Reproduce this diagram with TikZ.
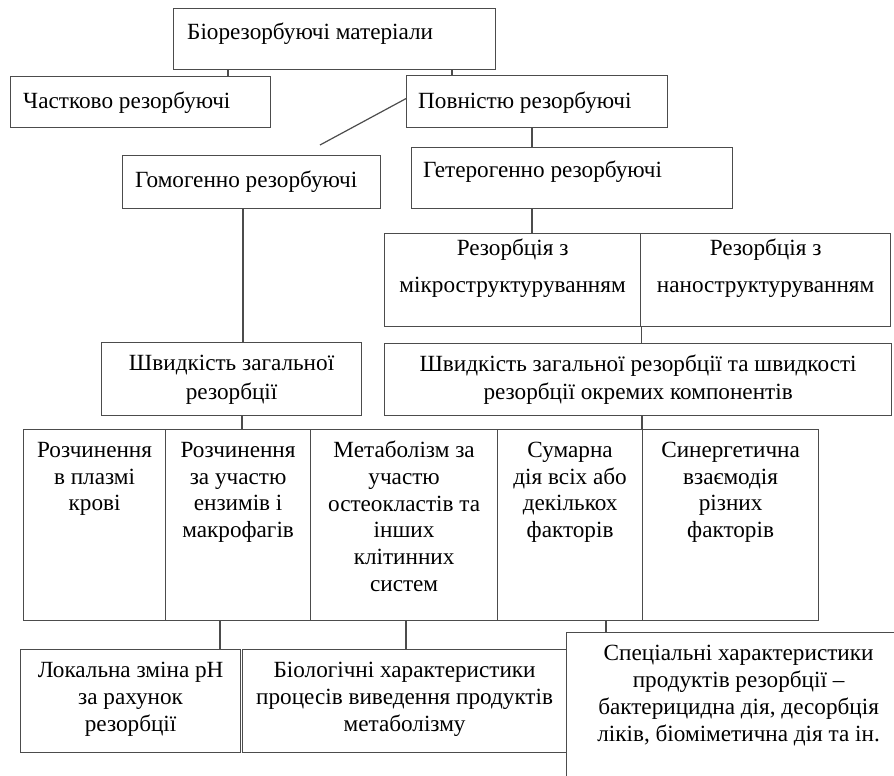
\documentclass[tikz,border=0pt]{standalone}
\usepackage{fontspec}
\setmainfont{Liberation Serif}
\usetikzlibrary{positioning,calc}

\tikzset{
  cell/.style={draw=black!70, line width=1.2pt, inner sep=0pt, anchor=north west},
  txt/.style={inner sep=0pt, align=center, anchor=north},
  ltxt/.style={inner sep=0pt, align=left, anchor=north west},
  link/.style={draw=black!70, line width=1.2pt}
}

\begin{document}
\begin{tikzpicture}[x=1pt, y=-1pt, every node/.style={font=\fontsize{23.2}{26.7}\selectfont}]
\useasboundingbox (0,0) rectangle (894,776);
\clip (0,0) rectangle (894,776);

% top levels
\node[cell, minimum width=322pt, minimum height=61pt, label={[ltxt, xshift=14pt, yshift=-15pt]north west:Біорезорбуючі матеріали}] (bio) at (173,8) {};
\node[cell, minimum width=260pt, minimum height=51pt, label={[ltxt, xshift=13pt, yshift=-16pt]north west:Частково резорбуючі}] (chast) at (10,76) {};
\node[cell, minimum width=261pt, minimum height=52pt, label={[ltxt, xshift=12pt, yshift=-17pt]north west:Повністю резорбуючі}] (povn) at (406,75) {};
\node[cell, minimum width=258pt, minimum height=53pt, label={[ltxt, xshift=13pt, yshift=-16pt]north west:Гомогенно резорбуючі}] (homo) at (122,155) {};
\node[cell, minimum width=321pt, minimum height=61pt, label={[ltxt, xshift=12pt, yshift=-14pt]north west:Гетерогенно резорбуючі}] (hetero) at (411,147) {};

% structuring
\node[cell, minimum width=256pt, minimum height=93pt, label={[txt, yshift=-6pt, font=\fontsize{23.2}{37}\selectfont]north:{Резорбція з\\мікроструктуруванням}}] (micro) at (384,233) {};
\node[cell, minimum width=250pt, minimum height=93pt, label={[txt, yshift=-6pt, font=\fontsize{23.2}{37}\selectfont]north:{Резорбція з\\наноструктуруванням}}] (nano) at (640,233) {};

% rates
\node[cell, minimum width=260pt, minimum height=73pt, label={[txt, yshift=-13pt, font=\fontsize{23.2}{29}\selectfont]north:{Швидкість загальної\\резорбції}}] (rate) at (101,342) {};
\node[cell, minimum width=507pt, minimum height=72pt, label={[txt, yshift=-12pt, font=\fontsize{23.2}{28}\selectfont]north:{Швидкість загальної резорбції та швидкості\\резорбції окремих компонентів}}] (ratecomp) at (384,343) {};

% mechanisms
\node[cell, minimum width=142pt, minimum height=191pt, label={[txt, yshift=-13pt]north:{Розчинення\\в плазмі\\крові}}] (plasma) at (23,429) {};
\node[cell, minimum width=145pt, minimum height=191pt, label={[txt, yshift=-13pt]north:{Розчинення\\за участю\\ензимів і\\макрофагів}}] (enzym) at (165,429) {};
\node[cell, minimum width=187pt, minimum height=191pt, label={[txt, yshift=-12pt]north:{Метаболізм за\\участю\\остеокластів та\\інших\\клітинних\\систем}}] (meta) at (310,429) {};
\node[cell, minimum width=145pt, minimum height=191pt, label={[txt, yshift=-13pt]north:{Сумарна\\дія всіх або\\декількох\\факторів}}] (summ) at (497,429) {};
\node[cell, minimum width=176pt, minimum height=191pt, label={[txt, yshift=-13pt]north:{Синергетична\\взаємодія\\різних\\факторів}}] (syn) at (642,429) {};

% characteristics
\node[cell, minimum width=220pt, minimum height=103pt, label={[txt, yshift=-13pt, font=\fontsize{23.2}{27}\selectfont]north:{Локальна зміна pH\\за рахунок\\резорбції}}] (ph) at (20,649) {};
\node[cell, minimum width=324pt, minimum height=103pt, label={[txt, yshift=-13pt, font=\fontsize{23.2}{27}\selectfont]north:{Біологічні характеристики\\процесів виведення продуктів\\метаболізму}}] (biol) at (242,649) {};
\node[cell, minimum width=344pt, minimum height=170pt, label={[txt, yshift=-13pt, font=\fontsize{23.2}{27}\selectfont]north:{Спеціальні характеристики\\продуктів резорбції –\\бактерицидна дія, десорбція\\ліків, біоміметична дія та ін.}}] (spec) at (566,632) {};

% connector points
\coordinate (c1) at ([xshift=55pt]bio.south west);
\coordinate (c2) at ([xshift=279pt]bio.south west);
\coordinate (c3) at ([xshift=126pt]povn.south west);
\coordinate (c4) at ([xshift=121pt]homo.south west);
\coordinate (c5) at ([xshift=121pt]hetero.south west);
\coordinate (c6) at ([xshift=141pt]rate.south west);
\coordinate (c7) at ([xshift=55pt]enzym.south west);
\coordinate (c8) at ([xshift=96pt]meta.south west);
\coordinate (c9) at ([xshift=109pt]summ.south west);
\coordinate (homotip) at (320,145);

\draw[link] (c1) -- (c1 |- chast.north);
\draw[link] (c2) -- (c2 |- povn.north);
\draw[link] ([yshift=3pt]povn.west) -- (homotip);
\draw[link] (c3) -- (c3 |- hetero.north);
\draw[link] (c4) -- (c4 |- rate.north);
\draw[link] (c5) -- (c5 |- micro.north);
\draw[link] (micro.south east) -- (micro.south east |- ratecomp.north);
\draw[link] (c6) -- (c6 |- enzym.north);
\draw[link] (ratecomp.south -| syn.north west) -- (syn.north west);
\draw[link] (c7) -- (c7 |- ph.north);
\draw[link] (c8) -- (c8 |- biol.north);
\draw[link] (c9) -- (c9 |- spec.north);
\end{tikzpicture}
\end{document}
